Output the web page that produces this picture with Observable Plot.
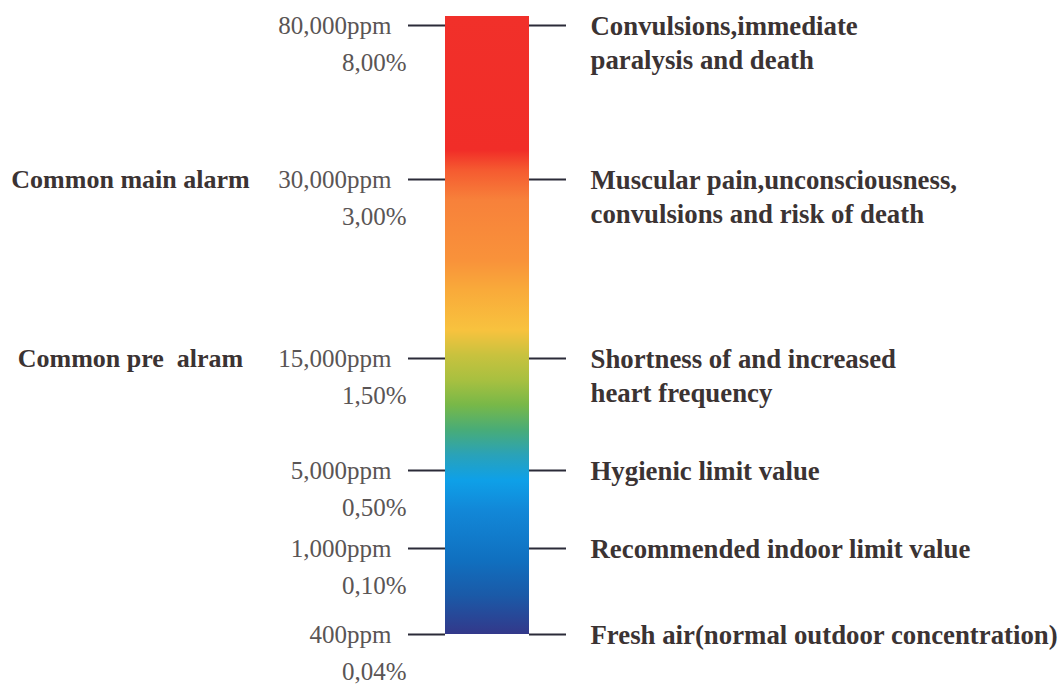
<!DOCTYPE html>
<html>
<head>
<meta charset="utf-8">
<script src="https://cdn.jsdelivr.net/npm/d3@7"></script>
<script src="https://cdn.jsdelivr.net/npm/@observablehq/plot@0.6"></script>
<style>
  html, body { margin: 0; padding: 0; background: #ffffff; }
  #chart svg { display: block; }
</style>
</head>
<body>
<div id="chart"></div>
<script>
// ---- data ----
const levels = [80000, 30000, 15000, 5000, 1000, 400];
const ppmLabels = ["80,000ppm", "30,000ppm", "15,000ppm", "5,000ppm", "1,000ppm", "400ppm"];
const pctLabels = ["8,00%", "3,00%", "1,50%", "0,50%", "0,10%", "0,04%"];
const effects = [
  "Convulsions,immediate\nparalysis and death",
  "Muscular pain,unconsciousness,\nconvulsions and risk of death",
  "Shortness of and increased\nheart frequency",
  "Hygienic limit value",
  "Recommended indoor limit value",
  "Fresh air(normal outdoor concentration)"
];
const alarmLevels = [30000, 15000];
const alarmLabels = ["Common main alarm", "Common pre  alram"];

// gradient stops (fraction from top of bar, colour)
const gradOffsets = [0, 0.217, 0.249, 0.298, 0.395, 0.443, 0.508, 0.549, 0.589, 0.629, 0.670, 0.710, 0.751, 0.799, 0.880, 0.937, 1];
const gradColors  = ["#f1302a", "#f12d28", "#f55a30", "#f7813a", "#f9923a", "#f9aa3a", "#f8c23e", "#c8c23e", "#a8c040", "#78b848", "#48ac78", "#2aa2b8", "#0ea0e8", "#1288d8", "#1070c0", "#1a5aa8", "#33388a"];

// ---- build tables ----
const rows = levels.map((v, i) => ({ppm: v, ppmLabel: ppmLabels[i], pct: pctLabels[i], effect: effects[i]}));
const alarms = alarmLevels.map((v, i) => ({ppm: v, label: alarmLabels[i]}));
const bar = [{lo: d3.min(levels), hi: d3.max(levels)}];

// layout (pixel columns)
const BAR_L = 445, BAR_R = 529, TICK_L = 408, TICK_R = 566;

const serif = "'Liberation Serif', 'DejaVu Serif', serif";
const plot = Plot.plot({
  width: 1062,
  height: 687,
  margin: 0,
  style: {background: "#ffffff", fontFamily: serif},
  x: {type: "linear", domain: [0, 1062], range: [0, 1062], axis: null},
  y: {type: "linear", domain: [400, 1000, 5000, 15000, 30000, 80000], range: [634, 548, 470, 358, 179, 25], axis: null},
  marks: [
    Plot.rect(bar, {x1: BAR_L, x2: BAR_R, y1: "lo", y2: "hi", fill: "url(#co2grad)", insetTop: -9}),
    Plot.ruleY(rows, {y: "ppm", x1: TICK_L, x2: BAR_L, stroke: "#2b2b38", strokeWidth: 2.2}),
    Plot.ruleY(rows, {y: "ppm", x1: BAR_R, x2: TICK_R, stroke: "#2b2b38", strokeWidth: 2.2}),
    Plot.text(rows, {x: 391, y: "ppm", text: "ppmLabel", textAnchor: "end", fontSize: 25, fill: "#5a5555", fontFamily: serif}),
    Plot.text(rows, {x: 406, y: "ppm", text: "pct", textAnchor: "end", dy: 37, fontSize: 25, fill: "#5a5555", fontFamily: serif}),
    Plot.text(rows, {x: 590, y: "ppm", text: "effect", textAnchor: "start", lineAnchor: "top", dy: -15, lineHeight: 1.28, fontSize: 26.8, fontWeight: "bold", fill: "#3b3333", fontFamily: serif}),
    Plot.text(alarms, {x: 130, y: "ppm", text: "label", textAnchor: "middle", fontSize: 26, fontWeight: "bold", fill: "#3b3333", fontFamily: serif})
  ]
});

// gradient definition used by the bar
const ns = "http://www.w3.org/2000/svg";
const defs = document.createElementNS(ns, "defs");
const lg = document.createElementNS(ns, "linearGradient");
lg.setAttribute("id", "co2grad");
lg.setAttribute("x1", "0"); lg.setAttribute("y1", "0");
lg.setAttribute("x2", "0"); lg.setAttribute("y2", "1");
gradOffsets.forEach((o, i) => {
  const s = document.createElementNS(ns, "stop");
  s.setAttribute("offset", o);
  s.setAttribute("stop-color", gradColors[i]);
  lg.appendChild(s);
});
defs.appendChild(lg);
plot.insertBefore(defs, plot.firstChild);

document.getElementById("chart").appendChild(plot);
</script>
</body>
</html>
